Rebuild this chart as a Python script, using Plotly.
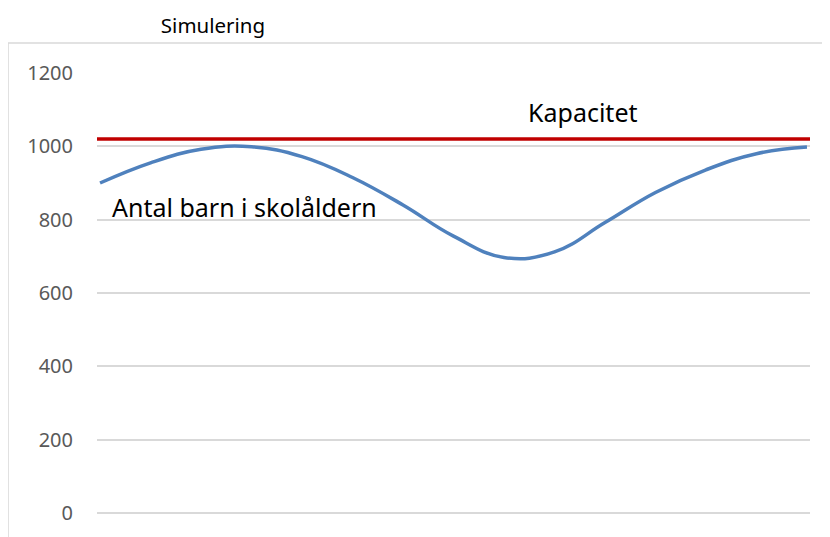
import plotly.graph_objects as go

# simulated number of school-age children
steg = list(range(1, 16))
antal_barn = [900, 955, 992, 999, 972, 915, 840, 755, 697, 712, 792, 874, 936, 980, 998]

# capacity line, extends slightly left of the plot area like in the original
kapacitet_x = [0.53, 15.06]
kapacitet = [1020, 1020]

y_ticks = [0, 200, 400, 600, 800, 1000, 1200]

FONT = "Noto Sans"

fig = go.Figure()

fig.add_trace(go.Scatter(
    x=steg,
    y=antal_barn,
    mode="lines",
    line=dict(color="#4F81BD", width=3.5, shape="spline", smoothing=1.2),
    name="Antal barn i skolåldern",
    hoverinfo="skip",
))

fig.add_trace(go.Scatter(
    x=kapacitet_x,
    y=kapacitet,
    mode="lines",
    line=dict(color="#C00000", width=3.5),
    name="Kapacitet",
    cliponaxis=False,
    hoverinfo="skip",
))

# chart-area border (cropped on right and bottom in the reference)
fig.add_shape(
    type="rect", xref="paper", yref="paper",
    x0=-0.1248, x1=1.06, y0=-0.1, y1=1.068,
    line=dict(color="#D9D9D9", width=1.5),
    layer="below",
)

fig.add_annotation(
    text="Antal barn i skolåldern", xref="paper", yref="paper",
    x=0.018, y=0.695, xanchor="left", yanchor="middle",
    showarrow=False, font=dict(family=FONT, size=25, color="#000000"),
)
fig.add_annotation(
    text="Kapacitet", xref="paper", yref="paper",
    x=0.681, y=0.912, xanchor="center", yanchor="middle",
    showarrow=False, font=dict(family=FONT, size=25, color="#000000"),
)

# the page body adds an 8px offset, so the figure is a bit smaller
fig.update_layout(
    width=822,
    height=529,
    margin=dict(l=89, r=20, t=65, b=24),
    paper_bgcolor="white",
    plot_bgcolor="white",
    showlegend=False,
    title=dict(
        text="Simulering", x=205 / 822, y=1 - 18 / 529,
        xanchor="center", yanchor="middle", xref="container", yref="container",
        font=dict(family=FONT, size=20.5, color="#000000"),
    ),
    xaxis=dict(
        range=[0.94, 15.06],
        showgrid=False, zeroline=False, showticklabels=False,
        showline=False, ticks="",
    ),
    yaxis=dict(
        range=[0, 1200],
        tickvals=y_ticks,
        showgrid=True, gridcolor="#D9D9D9", gridwidth=1.5,
        zeroline=True, zerolinecolor="#D9D9D9", zerolinewidth=1.5,
        showline=False, ticks="",
        ticklabelstandoff=23,
        tickfont=dict(family=FONT, size=20, color="#595959"),
    ),
)

fig.write_html("out.html")
